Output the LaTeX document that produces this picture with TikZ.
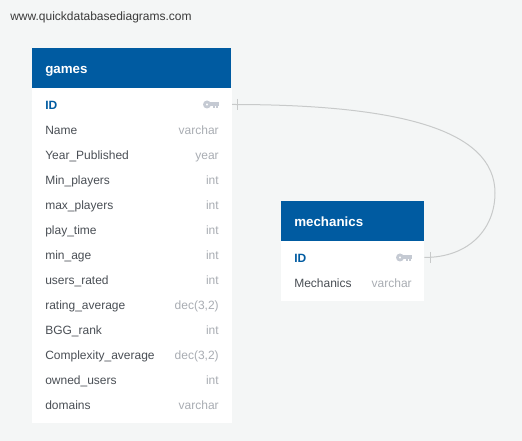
\documentclass[tikz,border=0pt]{standalone}
\usepackage{fontspec}
\setmainfont{Liberation Sans}
\definecolor{bgc}{HTML}{F4F6F6}
\definecolor{headc}{HTML}{005BA1}
\definecolor{keyc}{HTML}{C5CAD3}
\definecolor{typec}{HTML}{A9ADB3}
\definecolor{namec}{HTML}{4A4F55}
\definecolor{linec}{HTML}{C8CACA}
\definecolor{urlc}{HTML}{3A3A3A}
\tikzset{
 x=0.75pt,y=-0.75pt,
 headbox/.style={fill=headc,draw=none},
 headtext/.style={text=white,anchor=base west,inner sep=0,font=\fontsize{10pt}{12pt}\selectfont\bfseries},
 pktext/.style={text=headc,anchor=base west,inner sep=0,font=\fontsize{9pt}{11pt}\selectfont\bfseries},
 coltext/.style={text=namec,anchor=base west,inner sep=0,font=\fontsize{9pt}{11pt}\selectfont},
 typetext/.style={text=typec,anchor=base east,inner sep=0,font=\fontsize{9pt}{11pt}\selectfont},
 relline/.style={draw=linec,line width=0.75pt},
 tick/.style={draw=linec,line width=0.75pt},
 keyicon/.pic={
   \fill[keyc,even odd rule] (-4,0) circle[radius=4] (-4,0) circle[radius=1.3];
   \fill[keyc] (-1,-2.2) rectangle (8,1.2);
   \fill[keyc] (2,0) rectangle (4.2,3.5);
   \fill[keyc] (5.2,0) rectangle (7.2,3.5);
 }
}
\begin{document}
\begin{tikzpicture}
\useasboundingbox[fill=bgc] (0,0) rectangle (522,441);
\node[anchor=base west,inner sep=0,text=urlc,font=\fontsize{9pt}{10pt}\selectfont] (url) at (10,21) {www.quickdatabasediagrams.com};
% games
\fill[white] (32,88) rectangle (231.5,423);
\fill[headbox] (32,48) rectangle (231.3,88);
\node[headtext] (gtitle) at (45,74) {games};
\node[pktext] (gid) at (45,110) {ID};
\coordinate (gidend) at (232,104.5);
\coordinate (bend) at (495,193);
\path (211,104.5) pic {keyicon};
\foreach \n/\t/\y in {Name/varchar/135,Year\_Published/year/160,Min\_players/int/185,max\_players/int/210,play\_time/int/235,min\_age/int/260,users\_rated/int/285,rating\_average/dec(3{,}2)/310,BGG\_rank/int/335,Complexity\_average/dec(3{,}2)/360,owned\_users/int/385,domains/varchar/410}{
  \node[coltext] at (45,\y) {\n};
  \node[typetext] at (219,\y) {\t};
}
% mechanics
\fill[white] (281,241) rectangle (424.3,301);
\fill[headbox] (281,201) rectangle (424.2,241);
\node[headtext] (mtitle) at (294,227) {mechanics};
\node[pktext] (mid) at (294,263) {ID};
\coordinate (midend) at (424.3,257.5);
\path (404,257.5) pic {keyicon};
\node[coltext] (mmech) at (294,288) {Mechanics};
\node[typetext] (mtype) at (412,288) {varchar};
% connector
\draw[relline] (gidend) .. controls (400,104.5) and (495,130) .. (bend)
   .. controls (495,228) and (470,257.5) .. (midend);
\draw[tick] (237,99) -- (237,110);
\draw[tick] (430,252) -- (430,263);
\end{tikzpicture}
\end{document}
